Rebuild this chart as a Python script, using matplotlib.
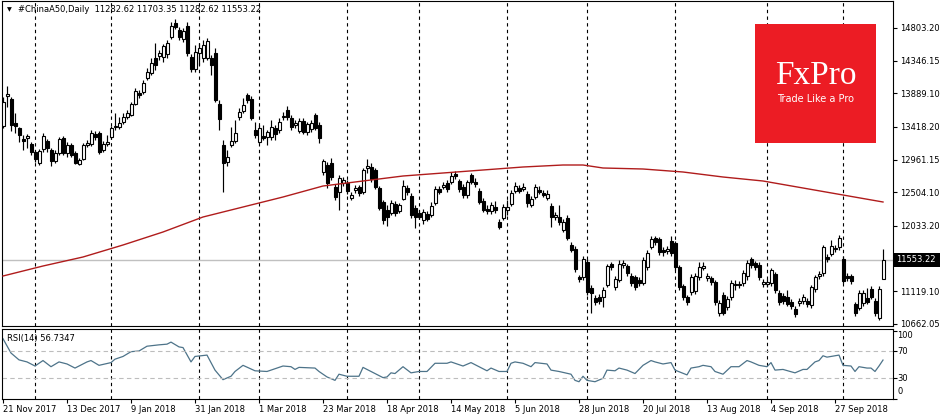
import numpy as np
import matplotlib
matplotlib.use("Agg")
import matplotlib.pyplot as plt
from matplotlib.patches import Rectangle

# ---- data (daily candles, 21 Nov 2017 .. mid Oct 2018) ----
symbol = "#ChinaA50,Daily"

opens = [13431, 13851, 13809, 13473, 13403, 13249, 13263, 13179, 13067, 12913,
         13109, 13221, 13095, 12941, 13053, 13263, 13053, 13165, 13053, 12899,
         12969, 13165, 13179, 13319, 13333, 13095, 13179, 13277, 13417, 13417,
         13487, 13557, 13585, 13739, 13893, 13907, 14103, 14173, 14383, 14411,
         14397, 14439, 14677, 14873, 14775, 14649, 14831, 14397, 14229, 14453,
         14383, 14383, 14383, 14453, 13739, 13165, 12927, 13165, 13221, 13557,
         13641, 13865, 13809, 13375, 13207, 13291, 13277, 13277, 13403, 13375,
         13557, 13655, 13543, 13445, 13361, 13501, 13347, 13389, 13585, 13445,
         12787, 12885, 12913, 12577, 12507, 12633, 12633, 12423, 12535, 12577,
         12507, 12843, 12857, 12815, 12563, 12367, 12255, 12213, 12339, 12241,
         12409, 12563, 12451, 12283, 12213, 12115, 12199, 12185, 12353, 12549,
         12577, 12633, 12647, 12759, 12661, 12577, 12465, 12745, 12647, 12521,
         12381, 12269, 12241, 12297, 12087, 12143, 12255, 12339, 12521, 12563,
         12549, 12479, 12325, 12437, 12535, 12493, 12423, 12311, 12157, 12157,
         11975, 12143, 11765, 11709, 11317, 11317, 11527, 11163, 11023, 11037,
         11037, 11205, 11499, 11177, 11275, 11485, 11471, 11331, 11317, 11275,
         11233, 11457, 11737, 11863, 11849, 11695, 11681, 11821, 11793, 11457,
         11191, 11037, 11107, 11121, 11317, 11443, 11303, 11303, 11247, 10813,
         11065, 10897, 11037, 11219, 11219, 11233, 11331, 11569, 11513, 11485,
         11219, 11219, 11233, 11359, 11093, 11051, 11037, 10967, 10869, 10953,
         10981, 10981, 10925, 11149, 11331, 11373, 11597, 11639, 11709, 11737,
         11569, 11331, 11331, 10939, 10883, 10953, 11023, 11149, 10981, 10743,
         11282.62]

highs = [13837, 13991, 13837, 13613, 13417, 13305, 13319, 13207, 13095, 13109,
         13333, 13249, 13123, 13095, 13277, 13291, 13207, 13193, 13081, 12983,
         13193, 13235, 13375, 13361, 13361, 13221, 13305, 13431, 13613, 13557,
         13613, 13655, 13767, 13963, 13935, 14075, 14243, 14383, 14593, 14495,
         14579, 14635, 14887, 14929, 14817, 14803, 14887, 14439, 14565, 14593,
         14635, 14663, 14425, 14523, 13795, 13235, 13095, 13417, 13515, 13683,
         13823, 13893, 13851, 13487, 13445, 13445, 13375, 13515, 13445, 13543,
         13627, 13711, 13585, 13515, 13543, 13543, 13487, 13515, 13613, 13487,
         12969, 12927, 12983, 12619, 12745, 12717, 12675, 12507, 12605, 12605,
         12843, 12969, 12913, 12843, 12591, 12395, 12325, 12395, 12381, 12353,
         12675, 12605, 12493, 12325, 12255, 12269, 12241, 12367, 12591, 12591,
         12647, 12675, 12787, 12801, 12689, 12619, 12675, 12773, 12703, 12563,
         12423, 12325, 12367, 12381, 12129, 12339, 12395, 12535, 12647, 12605,
         12633, 12521, 12451, 12619, 12591, 12535, 12535, 12353, 12227, 12325,
         12129, 12185, 11807, 11751, 11345, 11611, 11569, 11205, 11065, 11079,
         11177, 11499, 11527, 11331, 11555, 11555, 11499, 11373, 11345, 11317,
         11597, 11695, 11891, 11891, 11877, 11737, 11751, 11891, 11821, 11485,
         11219, 11065, 11359, 11373, 11527, 11527, 11373, 11331, 11275, 10995,
         11107, 11051, 11275, 11275, 11261, 11415, 11555, 11597, 11541, 11527,
         11289, 11289, 11443, 11387, 11135, 11093, 11135, 11009, 10911, 11023,
         11079, 11023, 11205, 11345, 11401, 11765, 11639, 11835, 11765, 11905,
         11611, 11373, 11359, 10967, 11135, 11135, 11163, 11191, 11023, 11191,
         11703.35]

lows = [13403, 13697, 13361, 13333, 13207, 13095, 13123, 13025, 12927, 12885,
        13067, 13067, 12871, 12913, 13025, 13025, 12997, 12997, 12899, 12885,
        12955, 13137, 13151, 13235, 13039, 13067, 13151, 13249, 13375, 13389,
        13459, 13529, 13571, 13725, 13823, 13879, 14075, 14145, 14215, 14355,
        14327, 14383, 14649, 14789, 14635, 14607, 14411, 14187, 14187, 14285,
        14327, 14355, 14145, 13767, 13375, 12507, 12871, 13137, 13193, 13515,
        13613, 13753, 13515, 13263, 13193, 13235, 13165, 13235, 13235, 13333,
        13515, 13515, 13375, 13403, 13333, 13319, 13305, 13347, 13375, 13193,
        12745, 12563, 12675, 12395, 12255, 12591, 12479, 12395, 12493, 12451,
        12479, 12773, 12647, 12549, 12255, 12059, 12031, 12185, 12171, 12213,
        12395, 12465, 12143, 12003, 12129, 12059, 12101, 12157, 12325, 12479,
        12549, 12507, 12619, 12689, 12507, 12423, 12423, 12619, 12577, 12339,
        12227, 12199, 12199, 12213, 11989, 12115, 12185, 12311, 12493, 12493,
        12521, 12297, 12297, 12409, 12479, 12437, 12395, 12017, 12115, 12045,
        11947, 11835, 11667, 11387, 11247, 11275, 11065, 10813, 10925, 10939,
        10897, 11177, 11415, 11135, 11247, 11443, 11331, 11191, 11135, 11191,
        11205, 11415, 11709, 11765, 11625, 11611, 11639, 11611, 11415, 11135,
        10995, 10925, 11065, 11079, 11275, 11415, 11261, 11205, 10925, 10771,
        10785, 10855, 10995, 11135, 11163, 11191, 11275, 11443, 11415, 11275,
        11177, 11177, 11191, 11093, 10925, 10939, 10911, 10869, 10757, 10911,
        10939, 10897, 10883, 11107, 11289, 11331, 11527, 11611, 11667, 11695,
        11233, 11261, 11219, 10771, 10855, 10911, 10939, 11009, 10771, 10715,
        11282.62]

closes = [13767, 13879, 13445, 13431, 13305, 13221, 13291, 13067, 12969, 13081,
          13291, 13123, 12941, 13053, 13249, 13053, 13165, 13025, 12913, 12955,
          13165, 13193, 13333, 13277, 13067, 13179, 13207, 13403, 13431, 13473,
          13557, 13613, 13739, 13921, 13865, 14033, 14187, 14313, 14285, 14453,
          14551, 14593, 14831, 14817, 14677, 14761, 14453, 14229, 14467, 14523,
          14565, 14621, 14285, 13795, 13529, 12913, 12997, 13221, 13333, 13627,
          13725, 13795, 13543, 13305, 13403, 13263, 13347, 13417, 13319, 13487,
          13571, 13557, 13417, 13473, 13501, 13347, 13459, 13473, 13403, 13263,
          12941, 12633, 12717, 12437, 12703, 12675, 12521, 12465, 12563, 12493,
          12815, 12871, 12689, 12577, 12283, 12115, 12157, 12353, 12213, 12325,
          12591, 12507, 12185, 12157, 12157, 12227, 12129, 12311, 12549, 12507,
          12605, 12549, 12731, 12731, 12549, 12465, 12647, 12647, 12619, 12367,
          12255, 12241, 12325, 12255, 12017, 12297, 12297, 12493, 12591, 12521,
          12577, 12353, 12409, 12577, 12507, 12465, 12479, 12157, 12185, 12087,
          12087, 11863, 11695, 11429, 11289, 11569, 11107, 11093, 10967, 10981,
          11135, 11471, 11457, 11289, 11499, 11513, 11373, 11233, 11177, 11233,
          11555, 11653, 11849, 11807, 11667, 11667, 11709, 11653, 11457, 11177,
          11037, 10967, 11317, 11331, 11457, 11471, 11331, 11247, 10967, 10953,
          10813, 11009, 11233, 11205, 11205, 11373, 11513, 11485, 11457, 11317,
          11247, 11247, 11415, 11135, 10967, 10981, 10939, 10911, 10799, 10981,
          11037, 10939, 11177, 11317, 11359, 11737, 11569, 11751, 11723, 11863,
          11261, 11303, 11261, 10813, 11093, 11093, 10967, 11037, 10813, 11155,
          11553.22]

# long moving average (red line), read every ~10 bars
ma_idx = [0, 10, 20, 30, 40, 50, 60, 70, 80, 90, 100, 110, 120, 130, 140, 145,
          150, 160, 170, 180, 190, 200, 210, 220]
ma_vals = [11331, 11471, 11597, 11765, 11947, 12157, 12297, 12437, 12591, 12661,
           12731, 12773, 12815, 12857, 12885, 12885, 12843, 12829, 12787, 12717,
           12661, 12563, 12465, 12367]

# RSI(14)
rsi_idx = [0, 2, 4, 6, 8, 10, 12, 14, 16, 18, 21, 22, 24, 27, 28, 30, 32, 34, 36,
           39, 41, 42, 44, 45, 47, 48, 51, 53, 55, 57, 58, 60, 63, 66, 67, 70, 72,
           73, 74, 78, 79, 81, 83, 84, 86, 89, 90, 92, 95, 96, 97, 98, 100, 102,
           104, 106, 108, 111, 112, 115, 117, 119, 121, 122, 124, 126, 127, 128,
           130, 132, 133, 136, 137, 139, 142, 143, 144, 145, 146, 148, 150, 151,
           153, 154, 156, 158, 160, 162, 163, 165, 167, 168, 171, 172, 174, 175,
           177, 178, 180, 182, 184, 186, 187, 189, 191, 192, 193, 195, 198, 200,
           201, 203, 204, 205, 206, 209, 210, 212, 213, 214, 216, 217, 218, 219, 220]
rsi_vals = [88, 67, 57, 54, 48, 56, 47, 54, 51, 45, 54, 56, 49, 53, 58, 62, 69, 70,
            77, 79, 80, 83, 76, 75, 54, 62, 64, 42, 28, 33, 40, 49, 41, 40, 42, 48,
            47, 43, 46, 45, 40, 32, 27, 36, 33, 33, 46, 40, 31, 32, 38, 37, 47, 38,
            40, 40, 52, 52, 54, 48, 53, 47, 41, 45, 40, 40, 52, 54, 52, 47, 53, 51,
            42, 40, 36, 27, 25, 33, 27, 25, 30, 42, 41, 45, 42, 37, 49, 56, 54, 51,
            53, 42, 35, 45, 47, 49, 47, 40, 36, 47, 47, 56, 54, 49, 47, 53, 42, 43,
            38, 43, 43, 54, 56, 63, 61, 64, 49, 48, 40, 47, 45, 45, 40, 48, 56.7347]

price_ticks = [14803.20, 14346.15, 13889.10, 13418.20, 12961.15, 12504.10,
               12033.20, 11119.10, 10662.05]
rsi_ticks = [100, 70, 30, 0]
rsi_levels = [30, 70]

date_idx = [0, 16, 32, 48, 64, 80, 96, 112, 128, 144, 160, 176, 192, 208]
date_labels = ["21 Nov 2017", "13 Dec 2017", "9 Jan 2018", "31 Jan 2018",
               "1 Mar 2018", "23 Mar 2018", "18 Apr 2018", "14 May 2018",
               "5 Jun 2018", "28 Jun 2018", "20 Jul 2018", "13 Aug 2018",
               "4 Sep 2018", "27 Sep 2018"]
# month separators (first bar of each month)
sep_idx = [8, 27, 49, 64, 86, 104, 126, 146, 168, 191, 210]

# ---- figure ----
W, H = 940, 420
def box(x0, y0, x1, y1):
    return [x0 / W, 1 - y1 / H, (x1 - x0) / W, (y1 - y0) / H]

plt.rcParams['font.family'] = ['DejaVu Sans']
fig = plt.figure(figsize=(W / 100, H / 100), dpi=100)
ax = fig.add_axes(box(2, 1, 893, 326))
ax2 = fig.add_axes(box(2, 329, 893, 399))

o = np.array(opens, float)
h = np.array(highs, float)
l = np.array(lows, float)
c = np.array(closes, float)
x = np.arange(len(c))
up = c >= o

# candles
ax.vlines(x, l, h, color='black', lw=0.85, zorder=2)
body = np.abs(c - o)
body = np.where(body < 10, 10, body)
ax.bar(x, body, bottom=np.minimum(o, c), width=0.75,
       color=np.where(up, 'white', 'black'), edgecolor='black', lw=0.8, zorder=3)

ax.plot(ma_idx, ma_vals, color='#B01C1C', lw=1.0, zorder=4)
ax.axhline(c[-1], color='#C0C0C0', lw=1, zorder=1)

for a in (ax, ax2):
    for s in sep_idx:
        a.axvline(s, color='black', lw=0.8, ls=(0, (3, 3)), zorder=1)
    a.set_xlim(-0.25, 222.5)
    for sp in a.spines.values():
        sp.set_color('black')
        sp.set_linewidth(0.8)

ax.set_ylim(10631, 15181)
ax.set_xticks([])
ax.yaxis.tick_right()
ax.set_yticks(price_ticks)
ax.set_yticklabels(['%.2f' % v for v in price_ticks])
ax.tick_params(axis='y', direction='out', length=3, width=0.8, labelsize=6, pad=2)

# RSI panel
ax2.plot(rsi_idx, rsi_vals, color='#4D7389', lw=0.9)
for lev in rsi_levels:
    ax2.axhline(lev, color='#BDBDBD', lw=0.8, ls=(0, (4, 3)))
ax2.set_ylim(-0.3, 102.2)
ax2.yaxis.tick_right()
ax2.set_yticks(rsi_ticks)
ax2.set_yticklabels([])
ax2.tick_params(axis='y', direction='out', length=3, width=0.8)
# MT4 keeps the 100 / 0 labels inside the panel
rsi_label_y = {100: 335.7, 70: 351.7, 30: 378.3, 0: 391.7}
for v in rsi_ticks:
    fig.text(897 / W, 1 - rsi_label_y[v] / H, str(v), fontsize=6, va='center', ha='left')
ax2.set_xticks(date_idx)
ax2.set_xticklabels(date_labels, ha='left')
ax2.tick_params(axis='x', direction='out', length=3, width=0.8, labelsize=6, pad=1.5)

# current price box
fig.add_artist(Rectangle((893 / W, 1 - 267 / H), 47 / W, 14 / H,
                         transform=fig.transFigure, fc='black', ec='none'))
fig.text(896 / W, 1 - 260 / H, '%.2f' % c[-1], fontsize=6, color='white',
         va='center', ha='left')

# header texts
fig.text(7 / W, 1 - 10 / H, '\u25bc', fontsize=4.5, va='center', ha='left')
fig.text(18 / W, 1 - 10 / H, '%s  %.2f %.2f %.2f %.2f' % (symbol, o[-1], h[-1], l[-1], c[-1]),
         fontsize=6, va='center', ha='left')
fig.text(7 / W, 1 - 338 / H, 'RSI(14) %.4f' % rsi_vals[-1], fontsize=6, va='center', ha='left')

# FxPro logo
fig.add_artist(Rectangle((755 / W, 1 - 143 / H), 121 / W, 119 / H,
                         transform=fig.transFigure, fc='#EC1C24', ec='none'))
fig.text(816 / W, 1 - 76 / H, 'FxPro', fontsize=24, color='white', ha='center',
         va='center', family='Liberation Serif')
fig.text(816 / W, 1 - 99 / H, 'Trade Like a Pro', fontsize=7, color='white',
         ha='center', va='center')

fig.savefig('out.png', dpi=100)
